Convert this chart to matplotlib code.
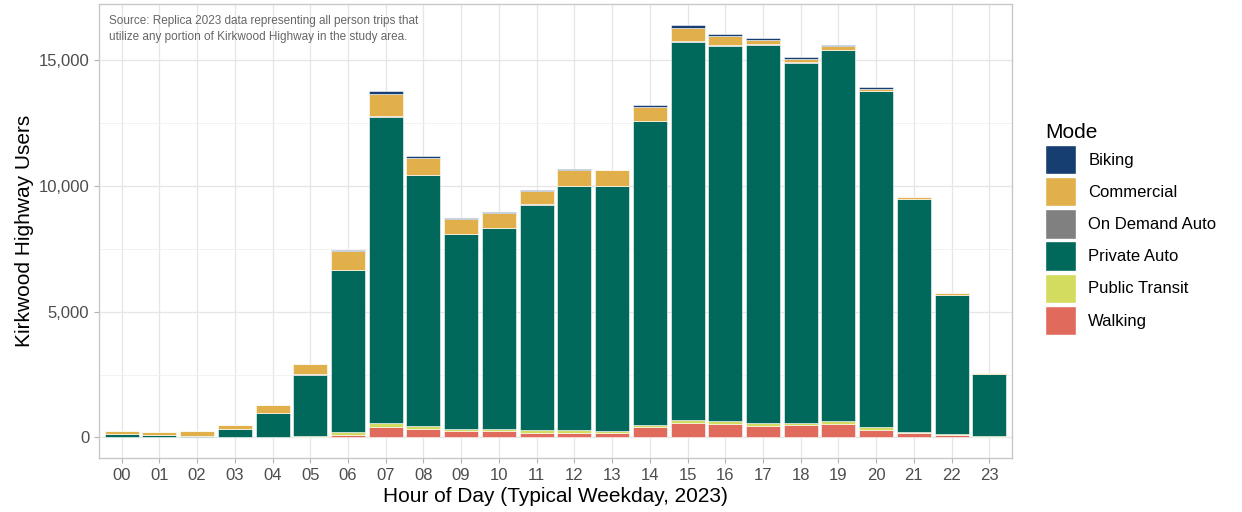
import matplotlib
matplotlib.use("Agg")
import matplotlib.pyplot as plt
from matplotlib.patches import Patch
import numpy as np

plt.rcParams['font.family'] = ['Liberation Sans', 'DejaVu Sans']

# Данные: пользователи Kirkwood Highway по часам (типичный будний день, 2023)
hours = ['00', '01', '02', '03', '04', '05', '06', '07', '08', '09', '10', '11',
         '12', '13', '14', '15', '16', '17', '18', '19', '20', '21', '22', '23']

walking = [10, 10, 5, 5, 10, 30, 90, 410, 340, 260, 250, 170,
           180, 170, 410, 580, 515, 450, 475, 545, 305, 185, 105, 25]
public_transit = [5, 10, 10, 10, 15, 40, 110, 160, 110, 90, 100, 110,
                  100, 80, 90, 95, 120, 120, 105, 105, 95, 40, 40, 10]
private_auto = [115, 70, 30, 325, 940, 2430, 6440, 12180, 9970, 7740, 7980, 8970,
                9720, 9750, 12080, 15055, 14935, 15050, 14310, 14750, 13360, 9255, 5525, 2495]
on_demand = [0, 0, 0, 0, 2, 5, 10, 20, 20, 15, 15, 15,
             20, 20, 25, 30, 30, 30, 30, 25, 20, 15, 10, 5]
commercial = [130, 110, 190, 150, 305, 400, 770, 890, 680, 600, 600, 550,
              630, 600, 540, 510, 380, 170, 140, 130, 90, 60, 60, 40]
biking = [5, 5, 5, 5, 5, 10, 15, 100, 90, 20, 20, 20,
          20, 20, 70, 150, 70, 60, 60, 50, 50, 20, 10, 5]

# порядок снизу вверх как в ggplot
layers = [
    ("Walking", walking, "#E06A5B"),
    ("Public Transit", public_transit, "#D3DC5E"),
    ("Private Auto", private_auto, "#00695B"),
    ("On Demand Auto", on_demand, "#808080"),
    ("Commercial", commercial, "#E2B04B"),
    ("Biking", biking, "#163E70"),
]

fig = plt.figure(figsize=(12.42, 5.12), dpi=100)
ax = fig.add_axes([99 / 1242, 1 - 458 / 512, (1012 - 99) / 1242, (458 - 4) / 512])

x = np.arange(len(hours))
bottom = np.zeros(len(hours))
for name, vals, color in layers:
    vals = np.array(vals, dtype=float)
    ax.bar(x, vals, bottom=bottom, width=0.9, color=color,
           edgecolor='white', linewidth=0.4, zorder=3)
    bottom += vals

totals = bottom
ymax = totals.max()
ax.set_ylim(-0.05 * ymax, ymax * 1.05)
ax.set_xlim(-0.6, len(hours) - 0.4)

ax.set_xticks(x)
ax.set_xticklabels(hours)
ax.set_yticks([0, 5000, 10000, 15000])
ax.set_yticklabels(['0', '5,000', '10,000', '15,000'])
ax.set_yticks([2500, 7500, 12500], minor=True)

ax.grid(True, which='major', color='#E6E6E6', linewidth=0.9, zorder=0)
ax.grid(True, which='minor', axis='y', color='#F0F0F0', linewidth=0.6, zorder=0)
ax.tick_params(axis='both', which='major', labelsize=12, labelcolor='#4D4D4D',
               color='#B3B3B3', length=3.5, width=0.8)
ax.tick_params(axis='y', which='minor', length=0)
for s in ax.spines.values():
    s.set_color('#C8C8C8')
    s.set_linewidth(1.0)

ax.set_xlabel("Hour of Day (Typical Weekday, 2023)", fontsize=15, labelpad=3)
ax.set_ylabel("Kirkwood Highway Users", fontsize=15, labelpad=3)

ax.text(0.011, 0.975,
        "Source: Replica 2023 data representing all person trips that\n"
        "utilize any portion of Kirkwood Highway in the study area.",
        transform=ax.transAxes, ha='left', va='top', fontsize=8.5,
        color='#666666', linespacing=1.45, zorder=5)

# Легенда
handles = [Patch(facecolor=c, edgecolor='white', label=n) for n, _, c in reversed(layers)]
leg = fig.legend(handles=handles, title="Mode", loc='upper left',
                 bbox_to_anchor=(1030 / 1242, 1 - 108 / 512), frameon=False,
                 fontsize=12, title_fontsize=15, handlelength=1.85, handleheight=2.35,
                 labelspacing=0.16, handletextpad=0.75, alignment='left')

fig.savefig("out.png", dpi=100)
